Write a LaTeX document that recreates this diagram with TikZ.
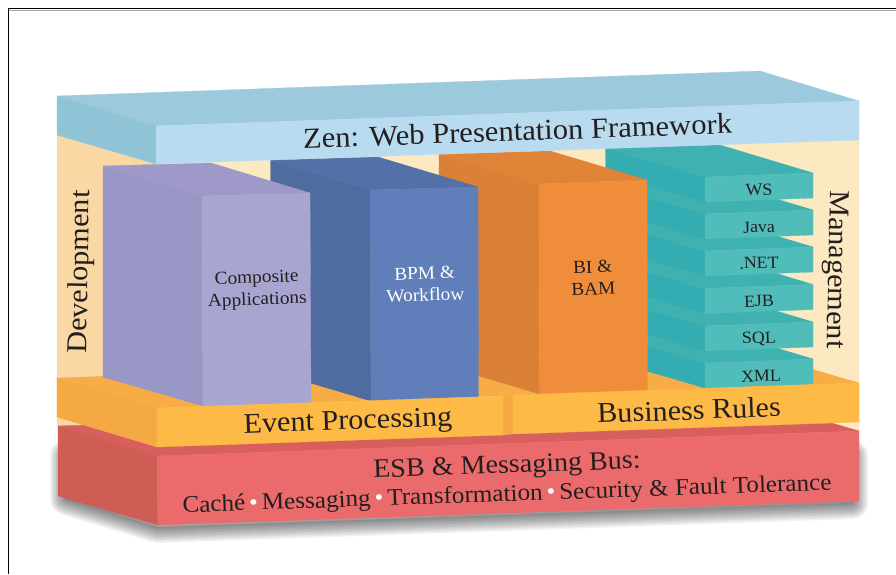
\documentclass[tikz,border=0pt]{standalone}
\usepackage{fontspec}
\setmainfont[FakeStretch=1.055]{Liberation Serif}
\definecolor{ink}{HTML}{231F20}
\definecolor{wallL}{HTML}{F9D8A4}
\definecolor{wallB}{HTML}{FCE9C2}
\definecolor{skyT}{HTML}{9CCADC}
\definecolor{skyS}{HTML}{8FC4D6}
\definecolor{skyF}{HTML}{B9DBEF}
\definecolor{ambT}{HTML}{F8AC45}
\definecolor{ambS}{HTML}{F5A945}
\definecolor{ambF}{HTML}{FDBA47}
\definecolor{redT}{HTML}{D85F5E}
\definecolor{redS}{HTML}{CE5D56}
\definecolor{redF}{HTML}{EB6B6C}
\definecolor{purT}{HTML}{9E99C8}
\definecolor{purS}{HTML}{9897C6}
\definecolor{purF}{HTML}{A9A5D1}
\definecolor{bluT}{HTML}{5470A8}
\definecolor{bluS}{HTML}{4F6B9F}
\definecolor{bluF}{HTML}{607EBA}
\definecolor{orgT}{HTML}{E18336}
\definecolor{orgS}{HTML}{DB8037}
\definecolor{orgF}{HTML}{EF8D3A}
\definecolor{teaT}{HTML}{40B1B1}
\definecolor{teaS}{HTML}{33ADB1}
\definecolor{teaF}{HTML}{50BDBB}
\definecolor{shade}{HTML}{6A6E78}
\tikzset{
  face/.style={fill=#1,draw=#1,line width=.3pt,line join=round},
  big/.style={text=ink,font=\fontsize{29}{31}\selectfont,inner sep=0pt,rotate=2},
  side/.style={text=ink,font=\fontsize{28.7}{31}\selectfont,inner sep=0pt},
  mid/.style={text=ink,font=\fontsize{28.6}{30}\selectfont,inner sep=0pt,rotate=2},
  head/.style={text=ink,font=\fontsize{26.6}{28}\selectfont,inner sep=0pt,rotate=2},
  sub/.style={text=ink,font=\fontsize{23.8}{26}\selectfont,inner sep=0pt,rotate=2},
  small/.style={text=ink,font=\fontsize{18.3}{22}\selectfont,inner sep=0pt,rotate=2,align=center},
  tier/.style={text=ink,font=\fontsize{17}{22}\selectfont,inner sep=0pt,rotate=2}
}
\newcommand{\dotsep}{\textcolor{white}{\,•\,}}
\newcommand{\tealslab}[1]{%
  \path[face=teaS] (605.5,#1-29) -- (705,#1) -- (705,#1+25) -- (605.5,#1-4) -- cycle;
  \path[face=teaT] (605.5,#1-29) -- (720,#1-32) -- (813,#1-4) -- (705,#1) -- cycle;
  \path[face=teaF] (705,#1) -- (813,#1-4) -- (813,#1+21) -- (705,#1+25) -- cycle;
}
\begin{document}
\begin{tikzpicture}[x=1pt,y=-1pt]
\useasboundingbox (0,0) rectangle (896,574);
\fill[white] (0,0) rectangle (896,574);
% frame
\draw[gray!70,line width=.7pt] (8,10) -- (896,10);
\draw[black,line width=1pt] (8,574) -- (8,8.8) -- (896,8.8);
% shadow under the base
\foreach \w in {32,29,26,23,20,17,14,11,8,5,2}{
  \draw[shade,line width=\w pt,line join=round,opacity=.05]
    (66,456) -- (852,456) -- (852,503) -- (158,527) -- (66,499) -- cycle;
}
% walls
\path[face=wallB] (156,164) -- (859,140) -- (859,431) -- (156,456) -- cycle;
\path[face=wallL] (57,135) -- (156,164) -- (156,456) -- (57,426) -- cycle;
% red base top
\path[face=redT] (58,426) -- (760,402) -- (859,431) -- (157,456) -- cycle;
% amber top
\path[face=ambT] (57,378) -- (760,354) -- (859,383) -- (157,408) -- cycle;
% teal slabs
\tealslab{363}
\tealslab{326}
\tealslab{288.5}
\tealslab{251}
\tealslab{214}
\tealslab{177}
% orange box
\path[face=orgS] (439,154) -- (539,184) -- (539.5,394) -- (439,364) -- cycle;
\path[face=orgT] (439,154) -- (550,151) -- (647,180) -- (539,184) -- cycle;
\path[face=orgF] (539,184) -- (647,180) -- (647.5,391) -- (539.5,394) -- cycle;
% blue box
\path[face=bluS] (270.5,160) -- (370,190) -- (371,401) -- (270.5,371) -- cycle;
\path[face=bluT] (270.5,160) -- (378,157) -- (478,187) -- (370,190) -- cycle;
\path[face=bluF] (370,190) -- (478,187) -- (478.5,397) -- (371,401) -- cycle;
% purple box
\path[face=purS] (103,166) -- (202,196) -- (203,406) -- (103,377) -- cycle;
\path[face=purT] (103,166) -- (211,163) -- (310,193) -- (202,196) -- cycle;
\path[face=purF] (202,196) -- (310,193) -- (311,403) -- (203,406) -- cycle;
% amber slab
\path[face=ambS] (57,378) -- (157,408) -- (157,447) -- (57,417) -- cycle;
\path[face=ambS] (503,396) -- (513,395) -- (513,434) -- (503,435) -- cycle;
\path[face=ambF] (157,408) -- (503,396) -- (503,435) -- (157,447) -- cycle;
\path[face=ambF] (513,395) -- (859,383) -- (859,422) -- (513,434) -- cycle;
% red base
\path[face=redS] (58,426) -- (157,456) -- (158,525) -- (58,496) -- cycle;
\path[face=redF] (157,456) -- (859,431) -- (859,501) -- (158,525) -- cycle;
% top slab
\path[face=skyT] (57,96) -- (760,71) -- (859,101) -- (156,126) -- cycle;
\path[face=skyS] (57,96) -- (156,126) -- (156,164) -- (57,135) -- cycle;
\path[face=skyF] (156,126) -- (859,101) -- (859,140) -- (156,164) -- cycle;
% labels
\node[big] (zen) at (517.5,131) {Zen: Web Presentation Framework};
\node[side,rotate=89] (dev) at (81,272) {Development};
\node[side,rotate=-91] (mgmt) at (835,269.5) {Management};
\node[mid] (event) at (348,423) {Event Processing};
\node[mid] (rules) at (689,410) {Business Rules};
\node[head] (esb) at (507,467) {ESB \& Messaging Bus:};
\node[sub] (bus) at (507,495.5) {Caché\dotsep Messaging\dotsep Transformation\dotsep Security \& Fault Tolerance};
\node[small] (comp) at (257,290) {Composite\\Applications};
\node[small,text=white] (bpm) at (425,284) {BPM \&\\Workflow};
\node[small] (bi) at (593,278) {BI \&\\BAM};
\node[tier] (ws) at (759,190) {WS};
\node[tier] (java) at (759,227) {Java};
\node[tier] (net) at (759,263) {.NET};
\node[tier] (ejb) at (759,301) {EJB};
\node[tier] (sql) at (759,339) {SQL};
\node[tier] (xml) at (761,376) {XML};
\end{tikzpicture}
\end{document}
